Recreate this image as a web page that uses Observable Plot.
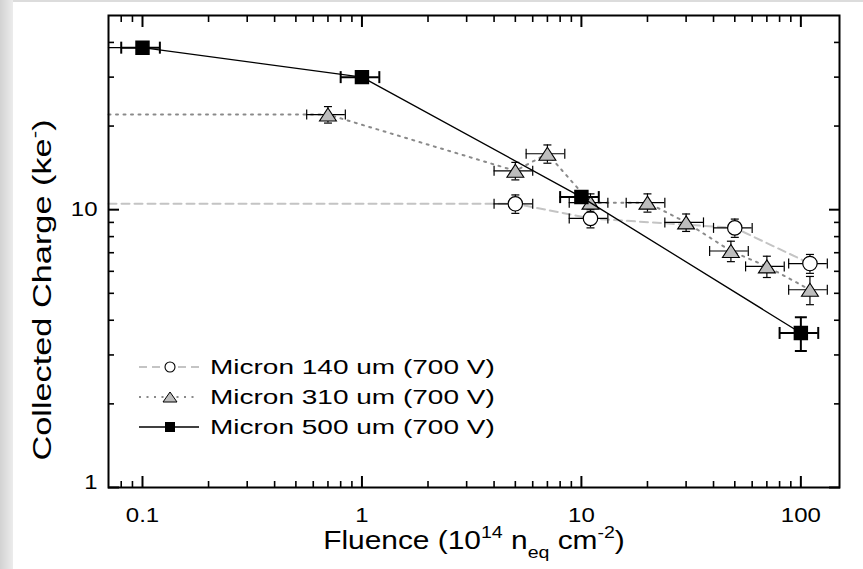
<!DOCTYPE html>
<html><head><meta charset="utf-8">
<script src="https://cdn.jsdelivr.net/npm/d3@7"></script>
<script src="https://cdn.jsdelivr.net/npm/@observablehq/plot@0.6"></script>
<style>
html,body{margin:0;padding:0;background:#fff;}
#wrap{position:relative;width:863px;height:569px;overflow:hidden;
 background: linear-gradient(to right, #d2d2d2 0px, #ececec 13px, #ffffff 13px);}
#topline{position:absolute;left:13px;top:0;width:850px;height:2px;background:#dcdcdc;}
#chart{position:absolute;left:0;top:0;}
#chart svg text{font-size:20px;font-family:'Liberation Sans', Arial, sans-serif;fill:#000;}
#over{position:absolute;left:0;top:0;pointer-events:none;}
</style></head><body>
<div id="wrap"><div id="topline"></div><div id="chart"></div><svg id="over" width="863" height="569"></svg></div>
<script>
// ---- data ----
const xDomain = [0.07, 150];
const yDomain = [1, 50];

const seriesNames = ["Micron 140 um (700 V)", "Micron 310 um (700 V)", "Micron 500 um (700 V)"];

const fluence140 = [5, 11, 50, 110];
const charge140  = [10.5, 9.3, 8.6, 6.4];
const yerr140    = [0.8, 0.7, 0.65, 0.5];

const fluence310 = [0.7, 5, 7, 11, 20, 30, 48, 70, 110];
const charge310  = [22, 13.8, 15.9, 10.6, 10.6, 9.0, 7.1, 6.25, 5.15];
const yerr310    = [1.5, 1.0, 1.2, 0.8, 0.8, 0.65, 0.6, 0.55, 0.6];

const fluence500 = [0.1, 1, 10, 100];
const charge500  = [38.3, 30, 11.1, 3.6];
const yerr500    = [0, 0, 0, 0.5];

const xErrFrac = 0.2;

const majorX = [0.1, 1, 10, 100];
const minorX = [0.08, 0.09, 0.2, 0.3, 0.4, 0.5, 0.6, 0.7, 0.8, 0.9, 2, 3, 4, 5, 6, 7, 8, 9, 20, 30, 40, 50, 60, 70, 80, 90];
const majorY = [1, 10];
const minorY = [2, 3, 4, 5, 6, 7, 8, 9, 20, 30, 40];

// ---- helpers ----
const rows = (f, q, e) => f.map((x, i) => ({f: x, q: q[i], e: e[i]}));
const d140 = rows(fluence140, charge140, yerr140);
const d310 = rows(fluence310, charge310, yerr310);
const d500 = rows(fluence500, charge500, yerr500);
const withLead = (d) => [{f: xDomain[0], q: d[0].q}, ...d];

const vbar = {draw(ctx, size) { const h = Math.sqrt(size / Math.PI); ctx.moveTo(0, -h); ctx.lineTo(0, h); }};
const hbar = {draw(ctx, size) { const h = Math.sqrt(size / Math.PI); ctx.moveTo(-h, 0); ctx.lineTo(h, 0); }};
const tri  = {draw(ctx, size) { const r = Math.sqrt(size / Math.PI); ctx.moveTo(0, -r); ctx.lineTo(1.3 * r, r); ctx.lineTo(-1.3 * r, r); ctx.closePath(); }};

function errMarks(d, sw, capX, capY) {
  const de = d.filter(v => v.e > 0);
  return [
    Plot.ruleY(d, {y: "q", x1: v => v.f * (1 - xErrFrac), x2: v => v.f * (1 + xErrFrac), stroke: "black", strokeWidth: sw}),
    Plot.dot(d, {x: v => v.f * (1 - xErrFrac), y: "q", symbol: vbar, r: capX, stroke: "black", strokeWidth: sw, fill: "none"}),
    Plot.dot(d, {x: v => v.f * (1 + xErrFrac), y: "q", symbol: vbar, r: capX, stroke: "black", strokeWidth: sw, fill: "none"}),
    Plot.ruleX(de, {x: "f", y1: v => v.q - v.e, y2: v => v.q + v.e, stroke: "black", strokeWidth: sw}),
    Plot.dot(de, {x: "f", y: v => v.q - v.e, symbol: hbar, r: capY, stroke: "black", strokeWidth: sw, fill: "none"}),
    Plot.dot(de, {x: "f", y: v => v.q + v.e, symbol: hbar, r: capY, stroke: "black", strokeWidth: sw, fill: "none"})
  ];
}

const styles = [
  {stroke: "#c4c4c4", strokeWidth: 2, dash: "8,5"},
  {stroke: "#8a8a8a", strokeWidth: 2, dash: "2,5.5"},
  {stroke: "#000000", strokeWidth: 1.3, dash: null}
];

const chart = Plot.plot({
  width: 863, height: 569,
  marginLeft: 108, marginRight: 24, marginTop: 15, marginBottom: 82,
  style: {background: "transparent", fontFamily: "'Liberation Sans', Arial, sans-serif", fontSize: "20px", color: "black"},
  x: {type: "log", domain: xDomain},
  y: {type: "log", domain: yDomain},
  marks: [
    // 140 um
    Plot.line(withLead(d140), {x: "f", y: "q", stroke: styles[0].stroke, strokeWidth: styles[0].strokeWidth, strokeDasharray: styles[0].dash}),
    ...errMarks(d140, 1.2, 5, 4),
    Plot.dot(d140, {x: "f", y: "q", symbol: "circle", r: 7.2, fill: "white", stroke: "black", strokeWidth: 1.2}),
    // 310 um
    Plot.line(withLead(d310), {x: "f", y: "q", stroke: styles[1].stroke, strokeWidth: styles[1].strokeWidth, strokeDasharray: styles[1].dash}),
    ...errMarks(d310, 1.2, 5, 4),
    Plot.dot(d310, {x: "f", y: "q", symbol: tri, r: 6.5, fill: "#bdbdbd", stroke: "black", strokeWidth: 1.1}),
    // 500 um
    Plot.line(withLead(d500), {x: "f", y: "q", stroke: styles[2].stroke, strokeWidth: styles[2].strokeWidth}),
    ...errMarks(d500, 2, 6, 6),
    Plot.dot(d500, {x: "f", y: "q", symbol: "square", r: 7.3, fill: "black", stroke: "black"}),
    // frame & axes
    Plot.frame({stroke: "black", strokeWidth: 2}),
    Plot.axisX({anchor: "bottom", ticks: minorX, tickSize: -6, tickFormat: () => "", strokeWidth: 1.6, label: null}),
    Plot.axisX({anchor: "bottom", ticks: majorX, tickSize: -11, tickFormat: () => "", strokeWidth: 2, label: null}),
    Plot.axisX({anchor: "top", ticks: minorX, tickSize: -6, tickFormat: () => "", strokeWidth: 1.6, label: null}),
    Plot.axisX({anchor: "top", ticks: majorX, tickSize: -11, tickFormat: () => "", strokeWidth: 2, label: null}),
    Plot.axisX({anchor: "bottom", ticks: majorX, tickSize: 0, tickPadding: 20, tickFormat: d => String(d), fontSize: 20, label: null}),
    Plot.axisY({anchor: "left", ticks: minorY, tickSize: -6, tickFormat: () => "", strokeWidth: 1.6, label: null}),
    Plot.axisY({anchor: "left", ticks: majorY, tickSize: -11, tickFormat: () => "", strokeWidth: 2, label: null}),
    Plot.axisY({anchor: "right", ticks: minorY, tickSize: -6, tickFormat: () => "", strokeWidth: 1.6, label: null}),
    Plot.axisY({anchor: "right", ticks: majorY, tickSize: -11, tickFormat: () => "", strokeWidth: 2, label: null}),
    Plot.axisY({anchor: "left", ticks: [majorY[1]], tickSize: 0, tickPadding: 11, tickFormat: d => String(d), fontSize: 20, label: null}),
    Plot.axisY({anchor: "left", ticks: [majorY[0]], tickSize: 0, tickPadding: 11, tickFormat: d => String(d), fontSize: 20, dy: -5, label: null})
  ]
});
document.getElementById("chart").appendChild(chart);

// widen tick-label glyphs like the reference font
const tickStretch = 1.2;
d3.select(chart).selectAll("text").each(function () {
  if (this.textContent && this.textContent.trim() !== "") {
    const len = this.getComputedTextLength();
    this.setAttribute("textLength", (len * tickStretch).toFixed(1));
    this.setAttribute("lengthAdjust", "spacingAndGlyphs");
  }
});

// ---- overlay: axis titles & legend ----
const over = d3.select("#over").style("font-family", "'Liberation Sans', Arial, sans-serif");

const xt = over.append("text").attr("transform", "translate(474,549) scale(1.15,1)").attr("text-anchor", "middle").attr("font-size", 26);
xt.append("tspan").text("Fluence (10");
xt.append("tspan").attr("dy", -11).attr("font-size", 17).text("14");
xt.append("tspan").attr("dy", 11).text(" n");
xt.append("tspan").attr("dy", 9).attr("font-size", 17).text("eq");
xt.append("tspan").attr("dy", -9).text(" cm");
xt.append("tspan").attr("dy", -11).attr("font-size", 17).text("-2");
xt.append("tspan").attr("dy", 11).text(")");

const yt = over.append("text").attr("transform", "translate(51,290) rotate(-90) scale(1.32,1)").attr("text-anchor", "middle").attr("font-size", 26);
yt.append("tspan").text("Collected Charge (ke");
yt.append("tspan").attr("dy", -11).attr("font-size", 17).text("-");
yt.append("tspan").attr("dy", 11).text(")");

const legY0 = 367, legDy = 30, legX0 = 139, legX1 = 199, legXm = 170, legTx = 210;
seriesNames.forEach((name, i) => {
  const y = legY0 + i * legDy;
  const s = styles[i];
  over.append("line").attr("x1", legX0).attr("x2", legX1).attr("y1", y).attr("y2", y)
    .attr("stroke", s.stroke).attr("stroke-width", s.strokeWidth).attr("stroke-dasharray", s.dash);
  if (i === 0) over.append("circle").attr("cx", legXm).attr("cy", y).attr("r", 5).attr("fill", "white").attr("stroke", "black").attr("stroke-width", 1.1);
  if (i === 1) over.append("path").attr("d", `M${legXm},${y - 5}L${legXm + 7},${y + 5}L${legXm - 7},${y + 5}Z`).attr("fill", "#bdbdbd").attr("stroke", "black").attr("stroke-width", 1);
  if (i === 2) over.append("rect").attr("x", legXm - 5).attr("y", y - 5).attr("width", 10).attr("height", 10).attr("fill", "black");
  over.append("text").attr("transform", `translate(${legTx},${y + 7}) scale(1.4,1)`).attr("font-size", 20).text(name);
});
</script>
</body></html>
